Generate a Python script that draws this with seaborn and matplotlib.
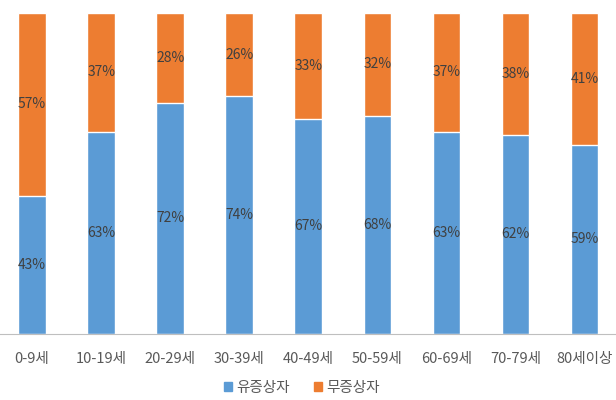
import matplotlib
matplotlib.use("Agg")
import pandas as pd
import matplotlib.pyplot as plt
import seaborn as sns
from matplotlib.patches import Patch

sns.set_style("white")
plt.rcParams['font.family'] = ['Noto Sans CJK KR', 'DejaVu Sans']

# data (percent)
ages = ["0-9세", "10-19세", "20-29세", "30-39세", "40-49세",
        "50-59세", "60-69세", "70-79세", "80세이상"]
symptomatic = [43, 63, 72, 74, 67, 68, 63, 62, 59]     # 유증상자
asymptomatic = [57, 37, 28, 26, 33, 32, 37, 38, 41]    # 무증상자

df = pd.DataFrame({"age": ages, "sym": symptomatic, "asym": asymptomatic})
df["total"] = df["sym"] + df["asym"]

blue = "#5B9BD5"
orange = "#ED7D31"

fig = plt.figure(figsize=(6.16, 4.0), dpi=100)
ax = fig.add_axes([-0.004, 0.165, 1.009, 0.8025])

# stacked: full bar in orange, blue part on top of it
sns.barplot(data=df, x="age", y="total", color=orange, width=0.4,
            saturation=1, ax=ax)
sns.barplot(data=df, x="age", y="sym", color=blue, width=0.4,
            saturation=1, ax=ax)

for i, row in df.iterrows():
    ax.text(i, row["sym"] / 2, f"{row['sym']}%", ha="center", va="center",
            fontsize=10, color="#404040")
    ax.text(i, row["sym"] + row["asym"] / 2, f"{row['asym']}%",
            ha="center", va="center", fontsize=10, color="#404040")

ax.set_ylim(0, 100)
ax.set_xlim(-0.5, 8.5)
ax.set_xlabel("")
ax.set_ylabel("")
ax.set_yticks([])
ax.tick_params(axis="x", length=0, pad=13, labelsize=10.5, labelcolor="#595959")
for s in ["top", "left", "right"]:
    ax.spines[s].set_visible(False)
ax.spines["bottom"].set_color("#BFBFBF")
ax.spines["bottom"].set_linewidth(0.8)

handles = [Patch(color=blue, label="유증상자"), Patch(color=orange, label="무증상자")]
fig.legend(handles=handles, loc="center", bbox_to_anchor=(0.49, 0.03),
           ncol=2, frameon=False, fontsize=10.5, handlelength=0.55,
           handleheight=0.55, handletextpad=0.3, columnspacing=1.6,
           labelcolor="#595959")

plt.savefig("out.png", dpi=100)
